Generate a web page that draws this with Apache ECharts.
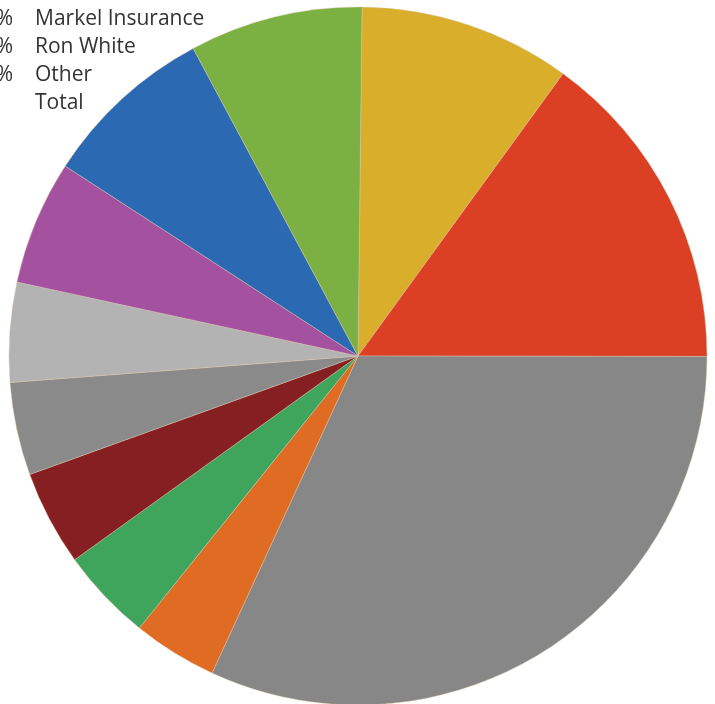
<!DOCTYPE html>
<html>
<head>
<meta charset="utf-8">
<script src="https://cdn.jsdelivr.net/npm/echarts@6/dist/echarts.min.js"></script>
<style>
  html, body { margin: 0; padding: 0; background: #fff; }
  #pie-content { width: 715px; height: 704px; }
</style>
</head>
<body>
<div id="pie-content"></div>
<script>
// 扇区（顺时针，从 12 点方向开始）
var sliceNames = ['A', 'B', 'Other', 'C', 'D', 'E', 'F', 'G', 'H', 'Markel Insurance', 'Ron White'];
var sliceValues = [9.8, 15.0, 31.8, 3.9, 4.3, 4.4, 4.3, 4.6, 5.75, 8.0, 8.0];
var sliceColors = ['#d9ae2b', '#db3f24', '#878787', '#e06b22', '#3fa55d', '#861f22',
  '#8a8a8a', '#b3b3b3', '#a452a0', '#2b69b3', '#7ab142'];

// 左上角被裁切的图例文字
var legendNames = ['Markel Insurance', 'Ron White', 'Other', 'Total'];
var legendPct = ['%', '%', '%', ''];

var renderPieChart = function () {
  var data = sliceNames.map(function (name, i) {
    return {name: name, value: sliceValues[i], itemStyle: {color: sliceColors[i]}};
  });

  var font = '21px "Open Sans", sans-serif';
  var graphic = [];
  legendNames.forEach(function (name, i) {
    var y = 9 + i * 28;
    graphic.push({
      type: 'text', left: 35, top: y,
      style: {text: name, font: font, fill: '#333'}
    });
    if (legendPct[i]) {
      graphic.push({
        type: 'text', x: 13, y: y,
        style: {text: legendPct[i], font: font, fill: '#333', align: 'right', verticalAlign: 'top'}
      });
    }
  });

  var option = {
    animation: false,
    backgroundColor: '#fff',
    graphic: graphic,
    series: [
      {
        type: 'pie',
        center: [358, 356],
        radius: 349,
        startAngle: 89.34,
        clockwise: true,
        label: {show: false},
        labelLine: {show: false},
        itemStyle: {borderWidth: 0.6, borderColor: 'rgba(220,200,170,0.7)'},
        data: data
      }
    ]
  };

  var myChart = echarts.init(document.getElementById('pie-content'));
  myChart.setOption(option);
};

renderPieChart();
</script>
</body>
</html>
